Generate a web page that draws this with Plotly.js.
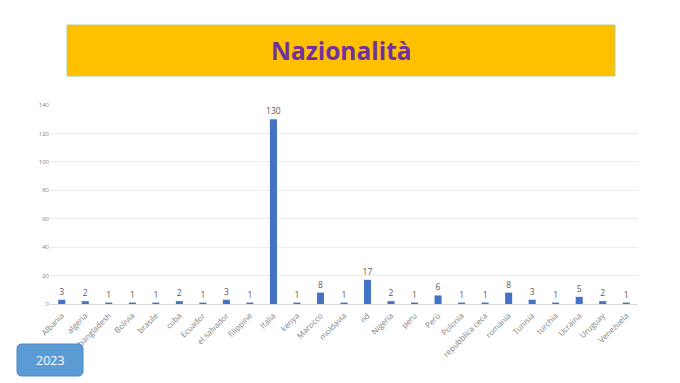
<!DOCTYPE html>
<html><head><meta charset="utf-8">
<script src="https://cdn.plot.ly/plotly-3.0.1.min.js"></script>
<style>html,body{margin:0;padding:0;background:#fff;}#chart{width:680px;height:383px;}</style>
</head><body><div id="chart"></div>
<script>
const categories = ["Albania","algeria","bangladesh","Bolivia","brasile","cuba","Ecuador","el salvador","filippine","Italia","kenya","Marocco","moldavia","nd","Nigeria","peru","Perù","Polonia","repubblica ceca","romania","Tunisia","turchia","Ucraina","Uruguay","Venezuela"];
const values = [3,2,1,1,1,2,1,3,1,130,1,8,1,17,2,1,6,1,1,8,3,1,5,2,1];
const yTicks = [0,20,40,60,80,100,120,140];
const titleText = "Nazionalità";
const yearText = "2023";

const trace = {
  type: "bar", x: categories, y: values,
  marker: {color: "#4472C4"}, width: 0.3,
  text: values.map(String), textposition: "outside", cliponaxis: false, constraintext: "none",
  textfont: {family: "Open Sans, sans-serif", size: 8.5, color: "#595959"},
  hoverinfo: "skip"
};
const layout = {
  width: 680, height: 383,
  margin: {l: 50, r: 42, t: 105, b: 79, autoexpand: false},
  paper_bgcolor: "#ffffff", plot_bgcolor: "#ffffff",
  showlegend: false,
  xaxis: {tickangle: -45, tickfont: {family: "Open Sans, sans-serif", size: 8, color: "#7f7f7f"},
    showgrid: false, showline: true, linecolor: "#d9d9d9", linewidth: 1, ticks: "", automargin: false,
    ticklabelstandoff: 3},
  yaxis: {range: [0, 140], tickvals: yTicks, tickfont: {family: "Open Sans, sans-serif", size: 6, color: "#7f7f7f"},
    showgrid: true, gridcolor: "#ececec", zeroline: false, showline: false, ticks: "", automargin: false},
  shapes: [
    {type: "rect", xref: "paper", yref: "paper", x0: (67-50)/588, x1: (615-50)/588, y0: (304-76)/199, y1: (304-25)/199,
     fillcolor: "#FFC000", line: {color: "#A9D18E", width: 1}, layer: "above"},
    {type: "path", xref: "paper", yref: "paper", layer: "above",
     path: (function(){
       const px = x => (x-50)/588, py = y => (304-y)/199;
       const x0=17,x1=83,y0=344,y1=376,r=5;
       return `M ${px(x0+r)},${py(y0)} L ${px(x1-r)},${py(y0)} Q ${px(x1)},${py(y0)} ${px(x1)},${py(y0+r)} L ${px(x1)},${py(y1-r)} Q ${px(x1)},${py(y1)} ${px(x1-r)},${py(y1)} L ${px(x0+r)},${py(y1)} Q ${px(x0)},${py(y1)} ${px(x0)},${py(y1-r)} L ${px(x0)},${py(y0+r)} Q ${px(x0)},${py(y0)} ${px(x0+r)},${py(y0)} Z`;
     })(),
     fillcolor: "#5B9BD5", line: {color: "#4a88c0", width: 1}}
  ],
  annotations: [
    {xref: "paper", yref: "paper", x: (341-50)/588, y: (304-50)/199, text: "<b>" + titleText + "</b>", showarrow: false,
     font: {family: "Open Sans, sans-serif", size: 24.5, color: "#7030A0"}, xanchor: "center", yanchor: "middle"},
    {xref: "paper", yref: "paper", x: (50-50)/588, y: (304-360)/199, text: yearText, showarrow: false,
     font: {family: "Open Sans, sans-serif", size: 12.5, color: "#ffffff"}, xanchor: "center", yanchor: "middle"}
  ]
};
Plotly.newPlot("chart", [trace], layout, {staticPlot: true, displayModeBar: false});
</script></body></html>
